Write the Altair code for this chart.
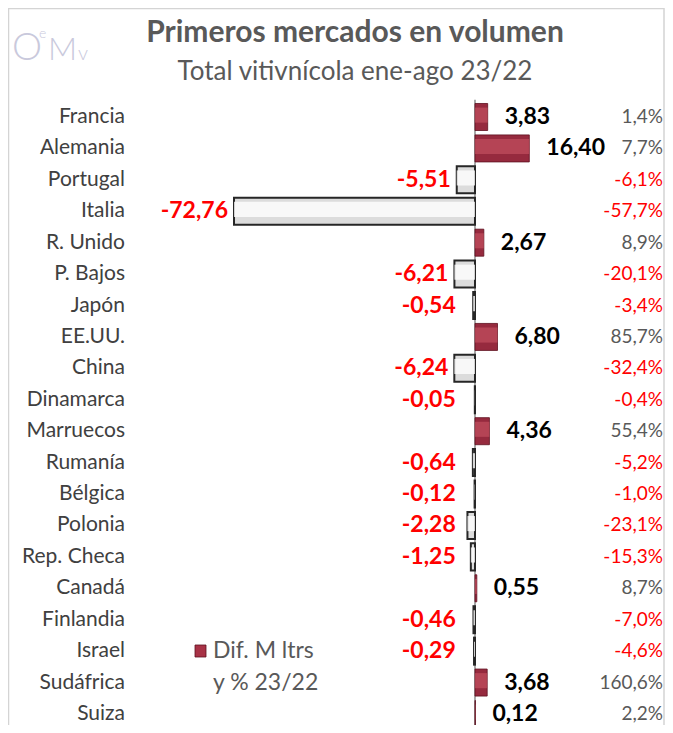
import altair as alt
import pandas as pd

paises = ["Francia", "Alemania", "Portugal", "Italia", "R. Unido", "P. Bajos", "Japón",
          "EE.UU.", "China", "Dinamarca", "Marruecos", "Rumanía", "Bélgica", "Polonia",
          "Rep. Checa", "Canadá", "Finlandia", "Israel", "Sudáfrica", "Suiza"]
dif_mltrs = [3.83, 16.40, -5.51, -72.76, 2.67, -6.21, -0.54, 6.80, -6.24, -0.05,
             4.36, -0.64, -0.12, -2.28, -1.25, 0.55, -0.46, -0.29, 3.68, 0.12]
var_pct = [1.4, 7.7, -6.1, -57.7, 8.9, -20.1, -3.4, 85.7, -32.4, -0.4,
           55.4, -5.2, -1.0, -23.1, -15.3, 8.7, -7.0, -4.6, 160.6, 2.2]

titulo = "Primeros mercados en volumen"
subtitulo = "Total vitivnícola ene-ago 23/22"
leyenda = ["Dif. M ltrs", "y % 23/22"]

def fmt(v, dec):
    return f"{v:.{dec}f}".replace(".", ",")

df = pd.DataFrame({
    "pais": paises,
    "dif": dif_mltrs,
    "pct": var_pct,
    "idx": list(range(len(paises))),
})
df["dif_lbl"] = [fmt(v, 2) for v in dif_mltrs]
df["pct_lbl"] = [fmt(v, 1) + "%" for v in var_pct]

W, H = 657, 717
FONT = "Lato"
xs = alt.Scale(domain=[-141.0, 57.37], nice=False, zero=False)
ys = alt.Scale(domain=[-3.469, 19.351], nice=False, zero=False, reverse=True)
X = lambda f: alt.X(f, type="quantitative", scale=xs, axis=None)
Y = lambda f: alt.Y(f, type="quantitative", scale=ys, axis=None)

base = alt.Chart(df).transform_calculate(
    y0="datum.idx - 0.43", y1="datum.idx + 0.43",
    yi0="datum.idx - 0.30", yi1="datum.idx + 0.18",
    neg="datum.dif < 0 ? 1 : 0",
    lx="min(datum.dif, -4)",
    zero="0",
)

one = alt.Chart(pd.DataFrame({"k": [0]}))

frame = one.mark_rect(fill="white", stroke="#d4d4d4", strokeWidth=1.5).encode(
    x=alt.value(0.5), x2=alt.value(656), y=alt.value(0.5), y2=alt.value(760))

zero_rule = one.transform_calculate(r0="-0.55", r1="20").mark_rule(
    color="#8c8c8c", strokeWidth=1.5).encode(
    x=X("k"), y=Y("r0"), y2=alt.Y2("r1"))

pos = base.transform_filter(alt.datum.neg == 0)
neg = base.transform_filter(alt.datum.neg == 1)

bars_pos = pos.mark_rect(fill="#962a3e", stroke="#5e1020", strokeWidth=0.8).encode(
    x=X("dif"), x2=alt.X2("zero"), y=Y("y0"), y2=alt.Y2("y1"))
bars_pos_hi = pos.mark_rect(fill="#d05a68", opacity=0.55).encode(
    x=X("dif"), x2=alt.X2("zero"), y=Y("yi0"), y2=alt.Y2("yi1"))

bars_neg = neg.mark_rect(fill="#dcdcdc", stroke="#262626", strokeWidth=2).encode(
    x=X("dif"), x2=alt.X2("zero"), y=Y("y0"), y2=alt.Y2("y1"))
bars_neg_hi = neg.mark_rect(fill="#ffffff", opacity=0.8).encode(
    x=X("dif"), x2=alt.X2("zero"), y=Y("yi0"), y2=alt.Y2("yi1"))

lbl_pos = pos.mark_text(
    align="left", baseline="middle", dx=17, font=FONT, fontSize=23,
    fontWeight="bold", color="black").encode(
    x=X("dif"), y=Y("idx"), text="dif_lbl:N")

lbl_neg = neg.mark_text(
    align="right", baseline="middle", dx=-6, font=FONT, fontSize=23,
    fontWeight="bold", color="#ff0000").encode(
    x=X("lx"), y=Y("idx"), text="dif_lbl:N")

pct_pos = pos.mark_text(align="right", baseline="middle", font=FONT, fontSize=19,
                        color="#595959").encode(
    x=alt.value(655), y=Y("idx"), text="pct_lbl:N")
pct_neg = neg.mark_text(align="right", baseline="middle", font=FONT, fontSize=19,
                        color="#ff0000").encode(
    x=alt.value(655), y=Y("idx"), text="pct_lbl:N")

pais_txt = base.mark_text(align="right", baseline="middle", font=FONT, fontSize=21,
                          color="#404040").encode(
    x=alt.value(117), y=Y("idx"), text="pais:N")

def txt(s, x, y, size, weight="normal", color="#595959", align="center", baseline="middle"):
    return one.mark_text(align=align, baseline=baseline, font=FONT, fontSize=size,
                         fontWeight=weight, color=color, text=s).encode(
        x=alt.value(x), y=alt.value(y))

tit = txt(titulo, 347, 25, 30, "bold")
subtit = txt(subtitulo, 347, 64, 26)

logo_col = "#c9c9dc"
logo_O = txt("O", 4, 52, 38, 300, logo_col, "left", "alphabetic")
logo_e = txt("e", 31, 30, 14, 300, logo_col, "left", "alphabetic")
logo_M = txt("M", 40, 52, 32, 300, logo_col, "left", "alphabetic")
logo_v = txt("v", 70, 52, 20, 300, logo_col, "left", "alphabetic")

leg_icon = one.mark_rect(fill="#a83246", stroke="#5e1020", strokeWidth=0.8).encode(
    x=alt.value(187), x2=alt.value(198), y=alt.value(637), y2=alt.value(649))
leg_t1 = txt(leyenda[0], 205, 643, 23, align="left")
leg_t2 = txt(leyenda[1], 205, 675, 23, align="left")

chart = alt.layer(
    frame, zero_rule, bars_neg, bars_neg_hi, bars_pos, bars_pos_hi, lbl_pos, lbl_neg,
    pct_pos, pct_neg, pais_txt, tit, subtit, logo_O, logo_e, logo_M, logo_v,
    leg_icon, leg_t1, leg_t2
).properties(
    width=W, height=H, padding=0, autosize=alt.AutoSizeParams(type="none")
).configure_view(stroke=None)

chart.save("out.html", embed_options={"renderer": "svg", "actions": False})
